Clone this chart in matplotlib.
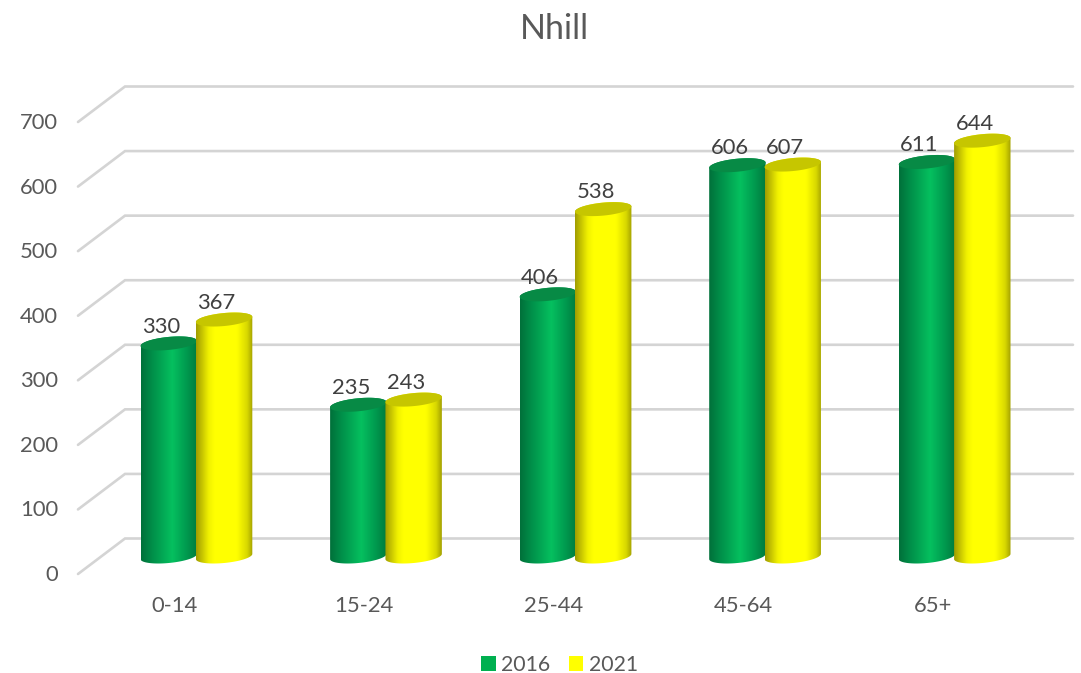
import numpy as np
import matplotlib
matplotlib.use("Agg")
import matplotlib.pyplot as plt
from matplotlib.colors import LinearSegmentedColormap
from matplotlib.patches import Patch, Polygon
from matplotlib.path import Path

categories = ["0-14", "15-24", "25-44", "45-64", "65+"]
series_names = ["2016", "2021"]
values_2016 = [330, 235, 406, 606, 611]
values_2021 = [367, 243, 538, 607, 644]
y_ticks = [0, 100, 200, 300, 400, 500, 600, 700]

plt.rcParams["font.family"] = ["Lato", "DejaVu Sans"]
W, H = 1081, 673
fig = plt.figure(figsize=(W / 100, H / 100), dpi=100, facecolor="white")

# pixel frame of the plotting area
L, R, Y0, Y700 = 78, 1073, 573, 121
ax = fig.add_axes([L / W, 1 - Y0 / H, (R - L) / W, (Y0 - Y700) / H])
px_x = 189.55          # pixels per category
px_y = (Y0 - Y700) / 700  # pixels per unit
x_lo = (L - 196.5) / px_x
x_hi = (R - 196.5) / px_x
ax.set_xlim(x_lo, x_hi)
ax.set_ylim(0, 700)
for s in ax.spines.values():
    s.set_visible(False)

text_col = "#595959"
ax.set_yticks(y_ticks)
ax.set_xticks(np.arange(len(categories)) - 22 / px_x)
ax.set_xticklabels(categories)
ax.tick_params(axis="y", length=0, pad=14.5, labelsize=15.8, labelcolor=text_col)
ax.tick_params(axis="x", length=0, pad=16.2, labelsize=15.8, labelcolor=text_col)

# gridlines: front diagonal + back wall
front = -1 / px_y
back = 34.5 / px_y
corner = x_lo + 47 / px_x
for v in y_ticks:
    ax.plot([x_lo, corner, x_hi], [v + front, v + back, v + back],
            color="#d4d4d4", lw=1.9, solid_capstyle="round",
            solid_joinstyle="miter", zorder=1, clip_on=False)

base = 16.5 / px_y
half_w = 28.2 / px_x
b = 6.5 / px_y
tilt = 2.6 / px_y
t_full = np.linspace(0, 2 * np.pi, 120)
t_low = np.linspace(np.pi, 2 * np.pi, 60)

def ell(cx, cy, t):
    return np.column_stack([cx + half_w * np.cos(t),
                            cy + b * np.sin(t) + tilt * np.cos(t)])

cmaps = [
    LinearSegmentedColormap.from_list("g", [(0, "#00703a"), (0.2, "#008f49"), (0.55, "#05c05f"),
                                            (0.8, "#009a4f"), (1, "#007a3d")]),
    LinearSegmentedColormap.from_list("y", [(0, "#a09c00"), (0.22, "#f0f000"), (0.32, "#ffff00"),
                                            (0.72, "#ffff00"), (0.9, "#d8d800"), (1, "#a3a000")]),
]
top_cols = ["#078a45", "#c6c600"]
grad = np.linspace(0, 1, 256).reshape(1, -1)
series = [values_2016, values_2021]
shift = [-27.75 / px_x, 27.6 / px_x]

for k, vals in enumerate(series):
    for i, v in enumerate(vals):
        cx = i + shift[k]
        top = base + v
        low = ell(cx, base, t_low)
        up = ell(cx, top, np.linspace(0, np.pi, 60))
        body = np.vstack([low, up])
        im = ax.imshow(grad, cmap=cmaps[k], vmin=0, vmax=1, aspect="auto",
                       extent=(cx - half_w, cx + half_w, base - 30, top + 30),
                       interpolation="bilinear", zorder=3 + k)
        im.set_clip_path(Path(np.vstack([body, body[:1]]), closed=True), ax.transData)
        ax.add_patch(Polygon(ell(cx, top, t_full), closed=True, fc=top_cols[k],
                             ec="none", zorder=3 + k))
        ax.text(cx - 7.5 / px_x, top + 16.8 / px_y, str(v), ha="center", va="center",
                fontsize=15.8, color="#404040", zorder=6)

ax.set_xlim(x_lo, x_hi)
ax.set_ylim(0, 700)

fig.text(554 / W, 1 - 29 / H, "Nhill", ha="center", va="center", fontsize=24.5, color=text_col)

handles = [Patch(fc="#00b050", ec="none", label=series_names[0]),
           Patch(fc="#ffff00", ec="none", label=series_names[1])]
fig.legend(handles=handles, ncol=2, loc="center", bbox_to_anchor=(559.5 / W, 1 - 665 / H),
           frameon=False, fontsize=15.3, labelcolor=text_col, handlelength=0.67, handleheight=0.67,
           handletextpad=0.27, columnspacing=0.85, borderpad=0, borderaxespad=0)

fig.savefig("out.png", dpi=100, facecolor="white")
